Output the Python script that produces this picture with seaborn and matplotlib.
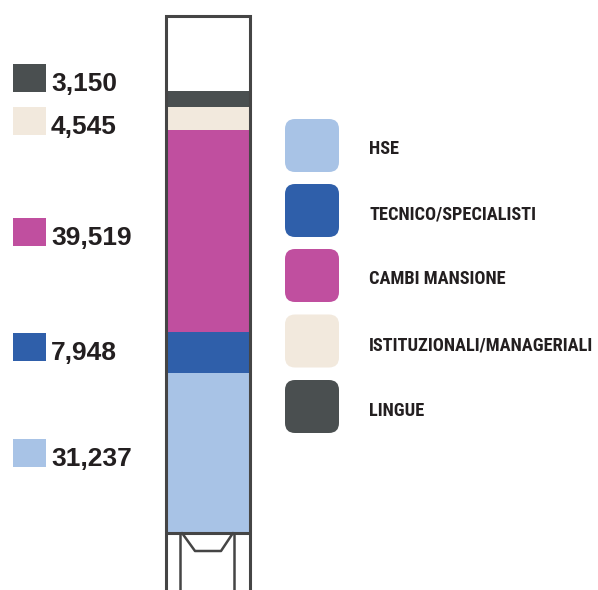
import matplotlib
matplotlib.use("Agg")
import matplotlib.pyplot as plt
import seaborn as sns
import pandas as pd
from matplotlib.patches import Rectangle, FancyBboxPatch
from matplotlib import font_manager

# ---- data ----
categories = ["HSE", "TECNICO/SPECIALISTI", "CAMBI MANSIONE",
              "ISTITUZIONALI/MANAGERIALI", "LINGUE"]
values = [31237, 7948, 39519, 4545, 3150]
value_labels = ["31,237", "7,948", "39,519", "4,545", "3,150"]
colors = ["#a8c3e6", "#2f5faa", "#c04f9f", "#f2e9dd", "#4a4f50"]

# ---- layout (pixels) ----
W, H = 598, 590
label_centers = [453, 347, 232, 121, 78]      # left value labels (same order as data)
legend_centers = [145.5, 210.5, 275.5, 341, 406.5]

sns.set_style("white")

names = {f.name for f in font_manager.fontManager.ttflist}
def pick(*cands):
    for c in cands:
        if c in names:
            return c
    return "DejaVu Sans"
num_font = pick("Liberation Sans", "Arial", "DejaVu Sans")
leg_font = pick("Roboto Condensed", "Liberation Sans Narrow", "DejaVu Sans")

fig = plt.figure(figsize=(W / 100, H / 100), dpi=100)

# ---- stacked bar (seaborn) ----
total = sum(values)
df = pd.DataFrame({"category": categories, "value": values})
df["cum"] = df["value"].cumsum()
df["x"] = "tube"

bar_bottom_px, bar_top_px = 532, 91
unit = total / (bar_bottom_px - bar_top_px)   # data units per pixel

ax = fig.add_axes([165 / W, 0, 85 / W, 1])
sns.barplot(data=df, x="x", y="cum", hue="category",
            hue_order=categories[::-1],
            palette=dict(zip(categories, colors)),
            dodge=False, width=1.0, saturation=1, errorbar=None,
            linewidth=0, legend=False, ax=ax)
ax.set_xlim(-0.5, 0.5)
ax.set_ylim((bar_bottom_px - H) * unit, bar_bottom_px * unit)
ax.axis("off")

# ---- overlay in pixel coordinates ----
ov = fig.add_axes([0, 0, 1, 1], zorder=5)
ov.set_xlim(0, W)
ov.set_ylim(H, 0)
ov.axis("off")
ov.patch.set_alpha(0)

line_c = "#454545"
# tube outline
ov.plot([165.5, 165.5, 250, 250], [H + 5, 16, 16, H + 5], color=line_c, lw=2.2,
        solid_joinstyle="miter", solid_capstyle="butt")
ov.plot([165.5, 250], [533, 533], color=line_c, lw=2.2, solid_capstyle="butt")
ov.plot([180, 180], [533, H + 5], color=line_c, lw=1.8)
ov.plot([234, 234], [533, H + 5], color=line_c, lw=1.8)
ov.plot([182, 195, 221, 233], [533, 551, 551, 533], color=line_c, lw=1.8)

# left value labels
for c, lab, yc in zip(colors, value_labels, label_centers):
    ov.add_patch(Rectangle((13, yc - 14), 33, 28, facecolor=c, edgecolor="none"))
    ov.text(51, yc + 13, lab, fontsize=19, fontweight="bold", family=num_font,
            color="#231f20", va="baseline", ha="left")

# right legend
for c, cat, yc in zip(colors, categories, legend_centers):
    ov.add_patch(FancyBboxPatch((285, yc - 26.5), 54, 53,
                                boxstyle="round,pad=0,rounding_size=10",
                                facecolor=c, edgecolor="none"))
    ov.text(369, yc + 9, cat, fontsize=13.2, fontweight="bold", family=leg_font,
            color="#231f20", va="baseline", ha="left")

fig.savefig("out.png", dpi=100)
